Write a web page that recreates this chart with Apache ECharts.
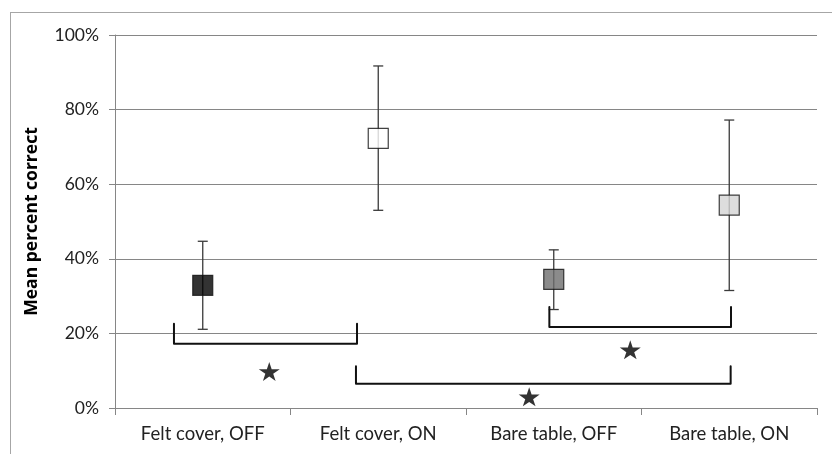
<!DOCTYPE html>
<html>
<head>
<meta charset="utf-8">
<script src="https://cdn.jsdelivr.net/npm/echarts@6/dist/echarts.min.js"></script>
<style>
html,body{margin:0;padding:0;background:#fff;overflow:hidden;}
#frame{position:absolute;left:10px;top:12px;width:840px;height:460px;border:1.5px solid #a6a6a6;}
#chart{position:absolute;left:0;top:0;width:832px;height:454px;}
</style>
</head>
<body>
<div id="frame"></div>
<div id="chart"></div>
<script>
// Data
const categories = ['Felt cover, OFF', 'Felt cover, ON', 'Bare table, OFF', 'Bare table, ON'];
const means = [0.329, 0.723, 0.345, 0.544];
const errLow = [0.211, 0.530, 0.264, 0.315];
const errHigh = [0.447, 0.917, 0.424, 0.772];
const markerColors = ['#000000', '#ffffff', '#6e6e6e', '#d4d4d4'];
const yTicks = [0, 0.2, 0.4, 0.6, 0.8, 1.0];
// Significance brackets (x in category units, y in proportion)
const bracketA = [[-0.164, 0.226], [-0.164, 0.172], [0.879, 0.172], [0.879, 0.226]];
const bracketB = [[0.873, 0.112], [0.873, 0.065], [3.008, 0.065], [3.008, 0.112]];
const bracketC = [[1.975, 0.271], [1.975, 0.217], [3.010, 0.217], [3.010, 0.271]];
const stars = [[0.379, 0.098], [1.860, 0.030], [2.436, 0.156]];

const FONT = 'Lato';
const STAR = 'path://M50,0 L61,35 L98,35 L68,57 L79,91 L50,70 L21,91 L32,57 L2,35 L39,35 Z';

const chart = echarts.init(document.getElementById('chart'), null, {renderer: 'canvas'});

function bracketSeries(data) {
  return {
    type: 'line', xAxisIndex: 1, yAxisIndex: 0, data: data,
    symbol: 'none', silent: true, z: 3,
    lineStyle: {color: '#111', width: 2, join: 'round', cap: 'round'}
  };
}

const option = {
  animation: false,
  backgroundColor: 'transparent',
  grid: {left: 115, right: 15, top: 35, bottom: 46},
  xAxis: [{
    type: 'category', data: categories,
    axisLine: {show: true, onZero: false, lineStyle: {color: '#868686', width: 1}},
    axisTick: {show: true, length: 7, lineStyle: {color: '#868686'}},
    axisLabel: {color: '#222', fontFamily: FONT, fontSize: 18.5, margin: 17},
    splitLine: {show: false}
  }, {
    type: 'value', min: -0.5, max: 3.5, show: false
  }],
  yAxis: {
    type: 'value', min: 0, max: 1, interval: 0.2,
    axisLine: {show: true, onZero: false, lineStyle: {color: '#868686', width: 1}},
    axisTick: {show: true, length: 6, lineStyle: {color: '#868686'}},
    axisLabel: {color: '#222', fontFamily: FONT, fontSize: 17.5, margin: 16,
      formatter: v => Math.round(v * 100) + '%'},
    splitLine: {show: true, lineStyle: {color: '#868686', width: 1}},
    name: 'Mean percent correct', nameLocation: 'middle', nameGap: 74,
    nameTextStyle: {color: '#000', fontFamily: 'Open Sans', fontSize: 17.5, fontWeight: 'bold'}
  },
  series: [
    {
      type: 'custom', xAxisIndex: 0, yAxisIndex: 0, z: 2,
      data: categories.map((c, i) => [i, errLow[i], errHigh[i]]),
      renderItem: function (params, api) {
        const lo = api.coord([api.value(0), api.value(1)]);
        const hi = api.coord([api.value(0), api.value(2)]);
        const w = 5;
        const st = {stroke: '#3a3a3a', lineWidth: 1.3};
        return {type: 'group', children: [
          {type: 'line', shape: {x1: lo[0], y1: lo[1], x2: hi[0], y2: hi[1]}, style: st},
          {type: 'line', shape: {x1: hi[0] - w, y1: hi[1], x2: hi[0] + w, y2: hi[1]}, style: st},
          {type: 'line', shape: {x1: lo[0] - w, y1: lo[1], x2: lo[0] + w, y2: lo[1]}, style: st}
        ]};
      }
    },
    {
      type: 'scatter', xAxisIndex: 0, yAxisIndex: 0, z: 5,
      symbol: 'rect', symbolSize: 20,
      data: means.map((m, i) => ({value: [i, m], itemStyle: {color: markerColors[i], borderColor: '#111', borderWidth: 1.2}}))
    },
    bracketSeries(bracketA),
    bracketSeries(bracketB),
    bracketSeries(bracketC),
    {
      type: 'scatter', xAxisIndex: 1, yAxisIndex: 0, z: 5,
      symbol: STAR, symbolSize: [21, 19],
      itemStyle: {color: '#000'},
      data: stars
    }
  ]
};
chart.setOption(option);
</script>
</body>
</html>
